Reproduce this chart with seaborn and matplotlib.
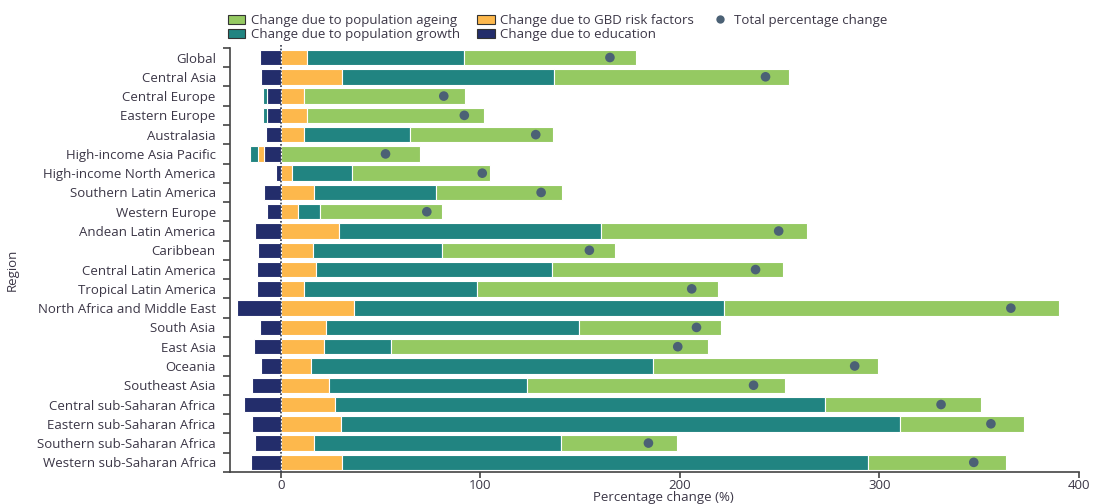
import numpy as np
import pandas as pd
import matplotlib
matplotlib.use("Agg")
import matplotlib.pyplot as plt
import seaborn as sns
from matplotlib.patches import Patch
from matplotlib.lines import Line2D

regions = ["Global", "Central Asia", "Central Europe", "Eastern Europe", "Australasia",
           "High-income Asia Pacific", "High-income North America", "Southern Latin America",
           "Western Europe", "Andean Latin America", "Caribbean", "Central Latin America",
           "Tropical Latin America", "North Africa and Middle East", "South Asia", "East Asia",
           "Oceania", "Southeast Asia", "Central sub-Saharan Africa", "Eastern sub-Saharan Africa",
           "Southern sub-Saharan Africa", "Western sub-Saharan Africa"]

education = [-10.5, -9.7, -6.7, -6.7, -7.5, -8.3, -2.3, -8.3, -6.8, -12.7, -11.2, -11.9,
             -11.9, -22.2, -10.4, -13.4, -9.7, -14.2, -18.5, -14.2, -12.7, -15.0]
risk_factors = [13.0, 30.7, 11.7, 13.0, 11.7, -3.0, 5.7, 16.7, 8.7, 29.0, 16.0, 17.4,
                11.7, 36.6, 22.7, 21.9, 15.0, 24.2, 27.0, 30.0, 16.7, 30.7]
growth = [79.0, 106.3, -2.3, -2.3, 53.0, -4.3, 30.2, 61.1, 10.8, 131.4, 64.9, 118.6,
          86.7, 185.4, 126.7, 33.1, 171.8, 99.4, 246.0, 280.6, 123.8, 263.7]
ageing = [86.0, 117.6, 80.7, 89.0, 71.8, 69.7, 69.1, 63.2, 61.2, 103.6, 86.7, 116.0,
          120.6, 168.0, 71.3, 159.0, 112.6, 129.4, 78.0, 61.8, 58.1, 69.1]
total = [165.0, 243.0, 81.7, 92.0, 127.8, 52.5, 101.0, 130.5, 73.2, 249.6, 154.7, 238.0,
         206.0, 366.0, 208.4, 199.0, 287.7, 237.0, 331.0, 356.0, 184.3, 347.4]

C_AGE = "#95c962"
C_GROW = "#218481"
C_RISK = "#fdb84c"
C_EDU = "#232d6b"
C_DOT = "#4b6175"
TXT = "#3b3646"

sns.set_theme(style="white")
plt.rcParams["font.family"] = ["Open Sans", "DejaVu Sans"]
FS = 9.5

df = pd.DataFrame({"region": regions, "education": education, "risk": risk_factors,
                   "growth": growth, "ageing": ageing, "total": total})

fig = plt.figure(figsize=(10.94, 5.04), dpi=100)
ax = fig.add_axes([0.210, 0.0635, 0.776, 0.8415])

neg = np.minimum(df["education"].values, 0)
pos = np.zeros(len(df))
ypos = np.arange(len(df))
ax.barh(ypos, df["education"].values, left=0, height=0.8, color=C_EDU,
        edgecolor="white", linewidth=0.8)
for col, colr in [("risk", C_RISK), ("growth", C_GROW), ("ageing", C_AGE)]:
    vals = df[col].values
    lefts = np.where(vals >= 0, pos, neg)
    ax.barh(ypos, vals, left=lefts, height=0.8, color=colr, edgecolor="white", linewidth=0.8)
    pos = np.where(vals >= 0, pos + vals, pos)
    neg = np.where(vals < 0, neg + vals, neg)

sns.scatterplot(data=df, x="total", y=ypos, ax=ax, color=C_DOT, s=48, marker="o",
                edgecolor="none", zorder=5, legend=False)

ax.axvline(0, ymin=0, ymax=1.01, clip_on=False, color="#333a4a",
           linestyle=(0, (1, 1.2)), linewidth=1.2, zorder=6)

ax.set_xlim(-25.6, 400)
ax.set_ylim(len(df) - 0.5, -0.5)
ax.set_yticks(ypos)
ax.set_yticklabels(regions, fontsize=FS, color=TXT)
ax.set_yticks(np.arange(-0.5, len(df), 1), minor=True)
ax.tick_params(axis="y", which="major", length=0, pad=10)
ax.tick_params(axis="y", which="minor", length=5, width=1.2, color="#444444", left=True)
ax.set_xticks([0, 100, 200, 300, 400])
ax.tick_params(axis="x", which="major", length=4, width=1.2, color="#444444", labelsize=FS,
               labelcolor=TXT, bottom=True, pad=1)
for s in ["top", "right"]:
    ax.spines[s].set_visible(False)
for s in ["left", "bottom"]:
    ax.spines[s].set_color("#444444")
    ax.spines[s].set_linewidth(1.2)
ax.set_xlabel("Percentage change (%)", fontsize=FS, color=TXT, labelpad=0)
ax.xaxis.set_label_coords(0.511, -0.059)
ax.xaxis.label.set_va("center")
ax.set_ylabel("Region", fontsize=FS, color=TXT)
ax.yaxis.set_label_coords(-0.249, 0.476)

handles = [Patch(facecolor=C_AGE, edgecolor="#333333", linewidth=0.8, label="Change due to population ageing"),
           Patch(facecolor=C_GROW, edgecolor="#333333", linewidth=0.8, label="Change due to population growth"),
           Patch(facecolor=C_RISK, edgecolor="#333333", linewidth=0.8, label="Change due to GBD risk factors"),
           Patch(facecolor=C_EDU, edgecolor="#333333", linewidth=0.8, label="Change due to education"),
           Line2D([0], [0], marker="o", color="none", markerfacecolor=C_DOT, markeredgecolor="none",
                  markersize=6, label="Total percentage change")]
leg = fig.legend(handles=handles, ncol=3, loc="upper left", bbox_to_anchor=(0.208, 0.972),
                 frameon=False, fontsize=FS, handlelength=1.35, handleheight=0.7,
                 handletextpad=0.4, columnspacing=1.3, labelspacing=0.05,
                 borderaxespad=0, borderpad=0)
for t in leg.get_texts():
    t.set_color(TXT)

fig.savefig("out.png", dpi=100)
